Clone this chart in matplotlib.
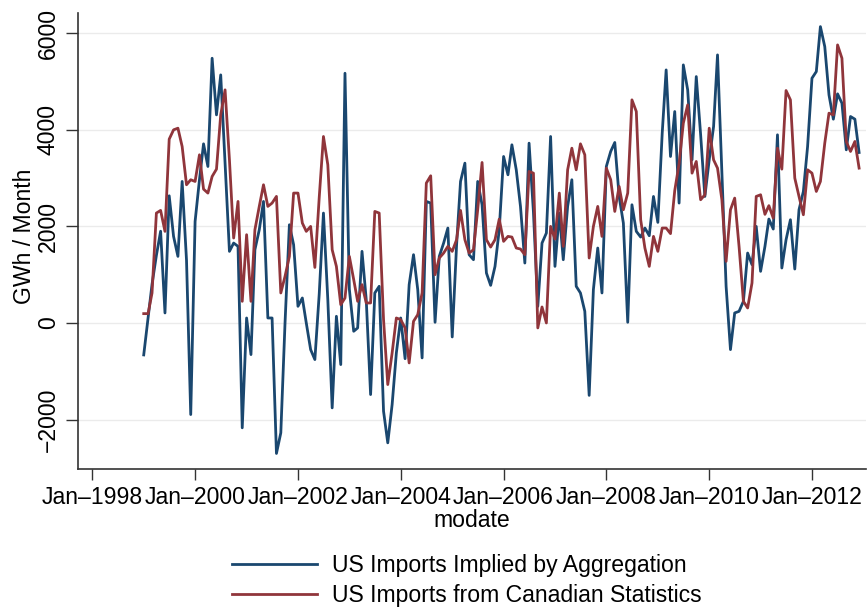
import pandas as pd
import matplotlib
matplotlib.use("Agg")
import matplotlib.pyplot as plt
import matplotlib.dates as mdates

# monthly values, Jan 1999 - Dec 2012 (GWh / month)
start = "1999-01-01"
implied = [
    -662, 100, 800, 1400, 1900, 207, 2634, 1793, 1379, 2931, 1300, -1897,
    2103, 2966, 3710, 3241, 5483, 4310, 5138, 3310, 1483, 1655, 1586, -2172,
    103, -655, 1517, 1931, 2517, 103, 103, -2703, -2276, 0, 2034, 1620,
    345, 517, 0, -552, -758, 600, 2276, 483, -1759, 138, -862, 5172,
    700, -172, -103, 1483, 483, -1483, 621, 759, -1828, -2483, -1690, -621,
    103, -740, 793, 1414, 690, -724, 2517, 2483, 14, 1379, 1655, 1966,
    -290, 1621, 2931, 3310, 1414, 1310, 2931, 2448, 1034, 779, 1172, 1931,
    3448, 3069, 3690, 3172, 2414, 1241, 3724, 2300, 345, 1655, 1862, 3862,
    1172, 2276, 1310, 2414, 2966, 759, 621, 241, -1500, 690, 1552, 621,
    3241, 3552, 3738, 2620, 2069, 14, 2448, 1897, 1779, 1966, 1807, 2620,
    2083, 3931, 5241, 3448, 4379, 2483, 5345, 4828, 3379, 5103, 3900, 2620,
    3379, 4069, 5552, 3103, 759, -552, 207, 241, 448, 1448, 1207, 2000,
    1069, 1586, 2152, 1945, 3897, 1138, 1724, 2138, 1117, 2345, 2724, 3655,
    5069, 5207, 6138, 5724, 4724, 4221, 4745, 4552, 3586, 4276, 4221, 3531,
]
canadian = [
    193, 193, 621, 2276, 2331, 1897, 3807, 4000, 4034, 3655, 2862, 2966,
    2931, 3483, 2772, 2690, 3034, 3186, 4310, 4828, 3380, 1759, 2517, 448,
    1828, 448, 1931, 2414, 2862, 2414, 2483, 2621, 621, 966, 1379, 2690,
    2690, 2069, 1897, 2000, 1150, 2600, 3862, 3276, 1517, 1172, 379, 517,
    1379, 897, 448, 793, 414, 414, 2310, 2276, 69, -1276, -621, 103,
    69, -103, -828, 34, 172, 621, 2897, 3048, 1000, 1345, 1448, 1586,
    1483, 1724, 2331, 1724, 1448, 1517, 2345, 3324, 1724, 1572, 1724, 2150,
    1690, 1793, 1779, 1552, 1531, 1414, 3138, 3103, -103, 331, 0, 2000,
    1738, 2690, 1586, 3172, 3620, 3172, 3710, 3483, 1345, 2000, 2414, 1793,
    3207, 2966, 2310, 2827, 2345, 2690, 4621, 4379, 2138, 1552, 1172, 1793,
    1483, 1966, 1966, 1850, 2740, 3300, 4138, 4517, 3103, 3345, 2552, 2655,
    4034, 3379, 3207, 2552, 1276, 2345, 2586, 1586, 448, 310, 828, 2621,
    2655, 2250, 2430, 2172, 3620, 3186, 4814, 4621, 3000, 2621, 2241, 3172,
    3103, 2724, 2931, 3724, 4345, 4310, 5759, 5483, 3759, 3552, 3759, 3207,
]
labels = ["US Imports Implied by Aggregation", "US Imports from Canadian Statistics"]
yticks = [-2000, 0, 2000, 4000, 6000]
xtick_years = list(range(1998, 2013, 2))

dates = pd.date_range(start, periods=len(implied), freq="MS")

plt.rcParams["font.family"] = ["Liberation Sans", "DejaVu Sans"]
fs = 16.6

fig = plt.figure(figsize=(8.67, 6.13), dpi=100)
ax = fig.add_axes([78 / 867, 1 - 469 / 613, 788 / 867, 456 / 613])

ax.plot(dates, implied, color="#1a476f", lw=2.0, label=labels[0], zorder=3)
ax.plot(dates, canadian, color="#90353b", lw=2.0, label=labels[1], zorder=3)

ax.set_xlim(pd.Timestamp("1997-09-21"), pd.Timestamp("2013-01-19"))
ax.set_ylim(-3025, 6420)

ax.set_yticks(yticks)
ax.set_yticklabels([str(v).replace("-", "\u2212") for v in yticks],
                   rotation=90, va="center", fontsize=fs)
ax.set_xticks([pd.Timestamp(f"{y}-01-01") for y in xtick_years])
ax.xaxis.set_major_formatter(mdates.DateFormatter("Jan\u2013%Y"))
ax.tick_params(axis="x", labelsize=fs, length=8, width=1, color="#333333", pad=4)
ax.tick_params(axis="y", length=9, width=1, color="#333333", pad=4)

ax.grid(axis="y", color="#ebebeb", lw=1)
ax.set_axisbelow(True)
for s in ["top", "right"]:
    ax.spines[s].set_visible(False)
for s in ["left", "bottom"]:
    ax.spines[s].set_color("#333333")
    ax.spines[s].set_linewidth(1.2)

ax.set_xlabel("modate", fontsize=fs, labelpad=0)
ax.set_ylabel("GWh / Month", fontsize=fs, labelpad=1)
ax.yaxis.label.set_y(0.51)

fig.legend(loc="center left", bbox_to_anchor=(232 / 867, 1 - 580.5 / 613),
           frameon=False, fontsize=fs, handlelength=3.7, handletextpad=0.65,
           labelspacing=0.3, borderpad=0, borderaxespad=0)

fig.savefig("out.png", dpi=100, facecolor="white")
